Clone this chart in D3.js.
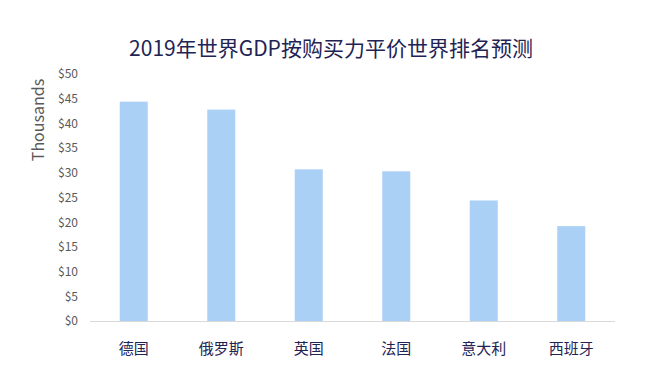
<!DOCTYPE html>
<html><head><meta charset="utf-8">
<script src="https://cdn.jsdelivr.net/npm/d3@7"></script>
<style>body{margin:0;background:#fff;}svg{display:block;}</style>
</head><body>
<script>
const categories = ["德国","俄罗斯","英国","法国","意大利","西班牙"];
const values = [44.4, 42.8, 30.7, 30.3, 24.4, 19.2];
const yTicks = [0,5,10,15,20,25,30,35,40,45,50];
const title = "2019年世界GDP按购买力平价世界排名预测";

const W = 659, H = 381;
const svg = d3.select("body").append("svg").attr("width", W).attr("height", H);
const font = "'Noto Sans CJK SC','Noto Sans',sans-serif";

const x = d3.scaleBand().domain(categories).range([90, 615]).paddingInner(0.68).paddingOuter(0.34);
const y = d3.scaleLinear().domain([0, 50]).range([321, 74]);

svg.append("text").attr("x", 331).attr("y", 56).attr("text-anchor","middle")
  .attr("font-family", font).attr("font-size", 21).attr("fill", "#1f2454").text(title);

svg.append("text").attr("transform","translate(44,120) rotate(-90)").attr("text-anchor","middle")
  .attr("font-family", font).attr("font-size", 16).attr("fill", "#595959").text("Thousands");

svg.selectAll("rect.bar").data(values).join("rect").attr("class","bar")
  .attr("x", (d,i)=>x(categories[i])).attr("width", x.bandwidth())
  .attr("y", d=>y(d)).attr("height", d=>y(0)-y(d)).attr("fill", "#abd0f6");

const yAxis = d3.axisLeft(y).tickValues(yTicks).tickSize(0).tickPadding(0).tickFormat(d=>"$"+d);
const gy = svg.append("g").attr("transform","translate(78,0)").call(yAxis);
gy.select(".domain").remove();
gy.selectAll("text").attr("font-family", font).attr("font-size", 12).attr("fill", "#595959");

const xAxis = d3.axisBottom(x).tickSize(0).tickPadding(22);
const gx = svg.append("g").attr("transform","translate(0,321.5)").call(xAxis);
gx.select(".domain").attr("stroke", "#d9d9d9").attr("d", "M90,0H615");
gx.selectAll("text").attr("font-family", font).attr("font-size", 15).attr("fill", "#1f2454");
</script>
</body></html>
